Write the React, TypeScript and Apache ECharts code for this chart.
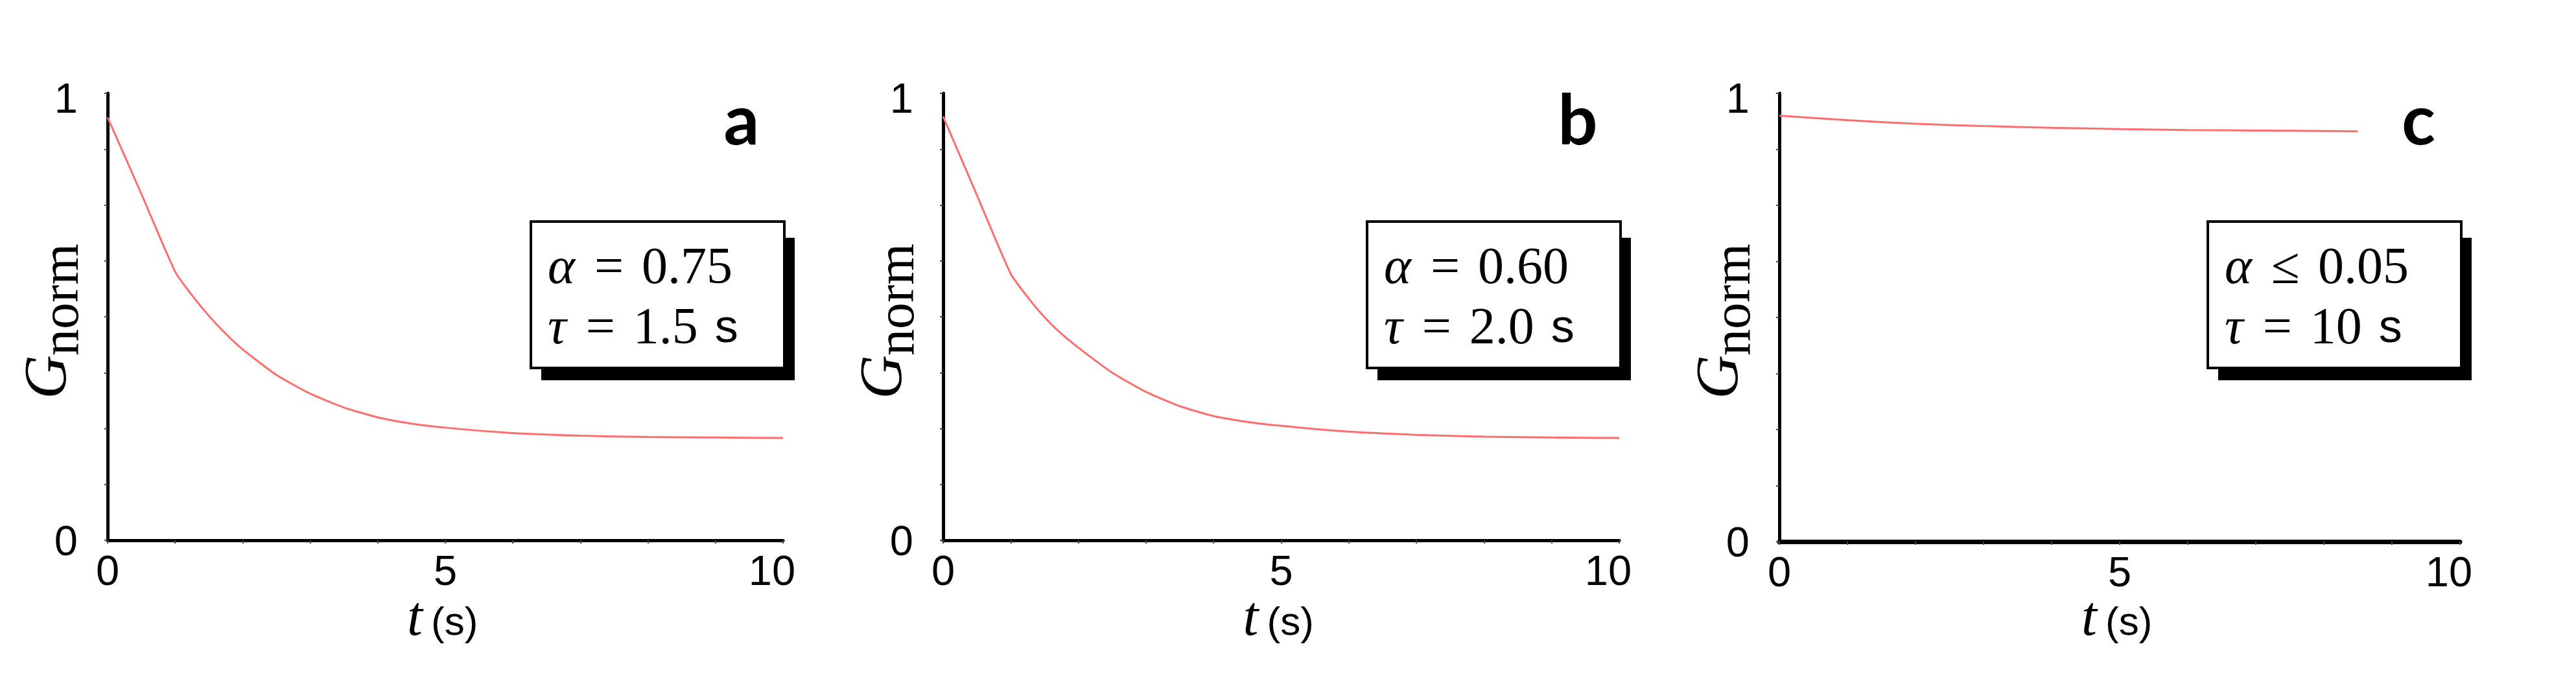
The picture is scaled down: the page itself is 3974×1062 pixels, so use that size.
import React, { useEffect, useRef } from 'react';
import * as echarts from 'echarts';

// ---- data ----
const T_AB = [0, 0.5, 1, 1.25, 1.5, 1.75, 2, 2.5, 3, 3.5, 4, 4.5, 5, 6, 7, 8, 9, 10];
const G_A = [0.946, 0.775, 0.601, 0.548, 0.502, 0.462, 0.427, 0.37, 0.328, 0.297, 0.275, 0.261, 0.252, 0.24, 0.234, 0.231, 0.23, 0.229];
const G_B = [0.948, 0.772, 0.596, 0.544, 0.499, 0.462, 0.431, 0.375, 0.332, 0.3, 0.278, 0.265, 0.256, 0.243, 0.236, 0.232, 0.23, 0.229];
const T_C = [0, 1, 2, 3, 4, 5, 6, 7, 8, 8.5];
const G_C = [0.95, 0.94, 0.932, 0.927, 0.923, 0.92, 0.918, 0.917, 0.916, 0.915];

const PANEL_LETTERS = ['a', 'b', 'c'];
const ALPHA_REL = ['=', '=', '≤'];
const ALPHA_VAL = ['0.75', '0.60', '0.05'];
const TAU_VAL = ['1.5', '2.0', '10'];
const X_TICK_LABELS = [0, 5, 10];
const Y_TICK_LABELS = [0, 1];

// ---- layout ----
const GRID_LEFT = [166, 1455, 2745];
const GRID_RIGHT = [1208, 2498, 3795];
const GRID_TOP = 144;
const GRID_BOTTOM = [834, 834, 836];
const X_LINE_W = [5, 5, 7];

const SERIF = 'Liberation Serif';
const SANS = 'Liberation Sans';
const CURVE = '#ff6e6e';

function buildOption() {
  const T = [T_AB, T_AB, T_C];
  const G = [G_A, G_B, G_C];

  const grids = GRID_LEFT.map((l, i) => ({
    left: l,
    top: GRID_TOP,
    width: GRID_RIGHT[i] - l,
    height: GRID_BOTTOM[i] - GRID_TOP,
    containLabel: false,
  }));

  const xAxes = GRID_LEFT.map((_, i) => ({
    type: 'value',
    gridIndex: i,
    min: 0,
    max: 10,
    interval: 1,
    axisLine: { show: true, onZero: false, lineStyle: { color: '#000', width: X_LINE_W[i] } },
    axisTick: { show: true, length: 5, lineStyle: { color: '#444', width: 2 } },
    splitLine: { show: false },
    axisLabel: {
      fontSize: 65,
      fontFamily: SANS,
      color: '#000',
      margin: 14,
      formatter: (v: number) => {
        if (!X_TICK_LABELS.includes(v)) return '';
        if (v === 10) return '{ten|10}';
        return String(v);
      },
      rich: { ten: { fontSize: 65, fontFamily: SANS, color: '#000', padding: [0, 34, 0, 0] } },
    },
  }));

  const yAxes = GRID_LEFT.map((_, i) => ({
    type: 'value',
    gridIndex: i,
    min: 0,
    max: 1,
    interval: 0.125,
    axisLine: { show: true, onZero: false, lineStyle: { color: '#000', width: 5 } },
    axisTick: { show: true, length: 5, lineStyle: { color: '#444', width: 2 } },
    splitLine: { show: false },
    axisLabel: {
      fontSize: 65,
      fontFamily: SANS,
      color: '#000',
      margin: 46,
      formatter: (v: number) => {
        const hit = Y_TICK_LABELS.find((t) => Math.abs(t - v) < 1e-9);
        if (hit === undefined) return '';
        return hit === 1 ? '{hi|1}' : '0';
      },
      rich: { hi: { fontSize: 65, fontFamily: SANS, color: '#000', padding: [14, 0, 0, 0] } },
    },
  }));

  const series = GRID_LEFT.map((_, i) => ({
    type: 'line',
    xAxisIndex: i,
    yAxisIndex: i,
    data: T[i].map((t, k) => [t, G[i][k]]),
    showSymbol: false,
    smooth: 0.2,
    lineStyle: { color: CURVE, width: 3 },
    itemStyle: { color: CURVE },
  }));

  const graphic: any[] = [];
  GRID_LEFT.forEach((L, i) => {
    const R = GRID_RIGHT[i];
    const C = (L + R) / 2;
    const boxX = R - 389;
    const boxW = 391;
    // panel letter
    graphic.push({
      type: 'text',
      x: R - 64,
      y: 181,
      style: {
        text: PANEL_LETTERS[i],
        fontSize: 108,
        fontWeight: 'bold',
        fontFamily: 'Lato',
        fill: '#000',
        align: 'center',
        verticalAlign: 'middle',
      },
    });
    // shadow
    graphic.push({
      type: 'rect',
      shape: { x: boxX + 16, y: 367, width: boxW, height: 220 },
      style: { fill: '#000' },
    });
    // box
    graphic.push({
      type: 'rect',
      shape: { x: boxX, y: 342, width: boxW, height: 226 },
      style: { fill: '#fff', stroke: '#000', lineWidth: 4 },
    });
    // line 1: alpha
    graphic.push({
      type: 'text',
      x: boxX + 26,
      y: 410,
      style: {
        text: `{i|α}{o|${ALPHA_REL[i]}}{v|${ALPHA_VAL[i]}}`,
        align: 'left',
        verticalAlign: 'middle',
        rich: {
          i: { fontSize: 80, fontFamily: SERIF, fontStyle: 'italic', fill: '#000' },
          o: { fontSize: 80, fontFamily: SERIF, fill: '#000', padding: [0, 28, 0, 30] },
          v: { fontSize: 80, fontFamily: SERIF, fill: '#000' },
        },
      },
    });
    // line 2: tau
    graphic.push({
      type: 'text',
      x: boxX + 26,
      y: 503,
      style: {
        text: `{i|τ}{o|=}{v|${TAU_VAL[i]}}{u|s}`,
        align: 'left',
        verticalAlign: 'middle',
        rich: {
          i: { fontSize: 80, fontFamily: SERIF, fontStyle: 'italic', fill: '#000' },
          o: { fontSize: 80, fontFamily: SERIF, fill: '#000', padding: [0, 28, 0, 30] },
          v: { fontSize: 80, fontFamily: SERIF, fill: '#000' },
          u: { fontSize: 72, fontFamily: SANS, fill: '#000', padding: [0, 0, 0, 26] },
        },
      },
    });
    // y axis title: G_norm (rotated)
    graphic.push({
      type: 'text',
      x: L - 97,
      y: 616,
      rotation: Math.PI / 2,
      style: {
        text: 'G',
        fontSize: 94,
        fontFamily: SERIF,
        fontStyle: 'italic',
        fill: '#000',
        align: 'left',
        verticalAlign: 'middle',
      },
    });
    graphic.push({
      type: 'text',
      x: L - 74,
      y: 549,
      rotation: Math.PI / 2,
      style: {
        text: 'norm',
        fontSize: 82,
        fontFamily: SERIF,
        fill: '#000',
        align: 'left',
        verticalAlign: 'middle',
      },
    });
    // x axis title: t (s)
    graphic.push({
      type: 'text',
      x: C - 59,
      y: 951,
      style: {
        text: 't',
        fontSize: 86,
        fontFamily: SERIF,
        fontStyle: 'italic',
        fill: '#000',
        align: 'left',
        verticalAlign: 'middle',
      },
    });
    graphic.push({
      type: 'text',
      x: C - 22,
      y: 958,
      style: {
        text: '(s)',
        fontSize: 62,
        fontFamily: SANS,
        fill: '#000',
        align: 'left',
        verticalAlign: 'middle',
      },
    });
  });

  return {
    animation: false,
    backgroundColor: '#fff',
    grid: grids,
    xAxis: xAxes,
    yAxis: yAxes,
    series,
    graphic,
  };
}

export default function App() {
  const ref = useRef<HTMLDivElement>(null);
  useEffect(() => {
    document.body.style.margin = '0';
    const chart = echarts.init(ref.current as HTMLDivElement, null, { renderer: 'svg' });
    chart.setOption(buildOption() as any);
    return () => chart.dispose();
  }, []);
  return (
    <div
      ref={ref}
      style={{ position: 'fixed', left: 0, top: 0, width: 3974, height: 1062, background: '#fff' }}
    />
  );
}
